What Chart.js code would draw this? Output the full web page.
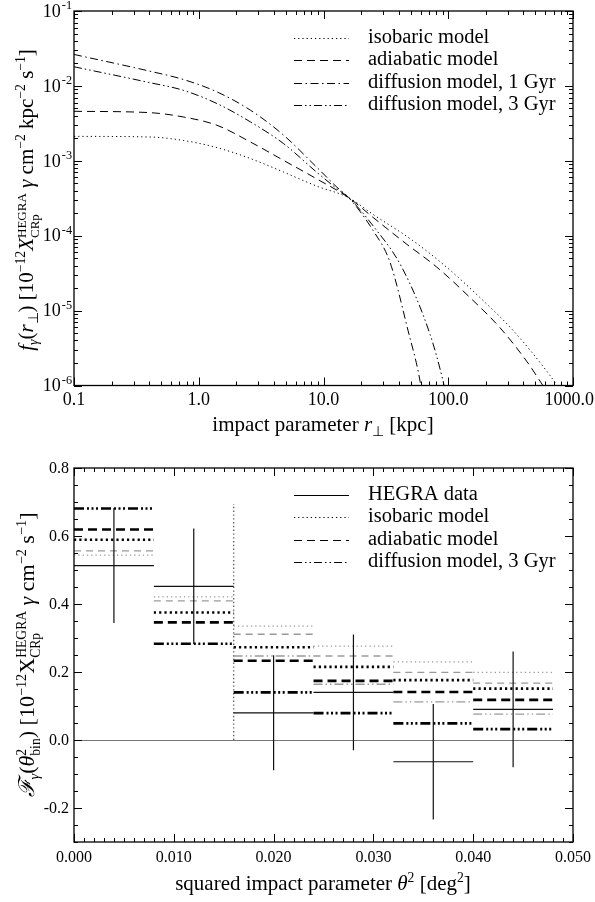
<!DOCTYPE html>
<html>
<head>
<meta charset="utf-8">
<script src="https://cdn.jsdelivr.net/npm/chart.js@4.4.1/dist/chart.umd.min.js"></script>
<style>
  body { margin: 0; background: #fff; }
  #wrap { position: relative; width: 595px; height: 902px; overflow: hidden;
          font-family: "Liberation Serif", "Times New Roman", serif; color: #000; }
  canvas { position: absolute; left: 0; }
  .title { position: absolute; white-space: nowrap; font-size: 21px; line-height: 1; }
  .ytitle { font-size: 22px; transform: translate(-50%, -50%) rotate(-90deg); }
  .xtitle { transform: translate(-50%, -50%); }
  sup, sub { font-size: 0.65em; line-height: 0; }
  .ss { display: inline-block; vertical-align: -0.45em; font-size: 0.62em; line-height: 1; text-align: left; }
  .ss span { display: block; }
</style>
</head>
<body>
<div id="wrap">
  <canvas id="topChart" width="595" height="430" style="top:0"></canvas>
  <canvas id="bottomChart" width="595" height="462" style="top:440px"></canvas>

  <div class="title ytitle" style="left:28px; top:200px; font-size:21px"><i>f</i><sub><i>γ</i></sub>(<i>r</i><sub>⊥</sub>) [10<sup>−12</sup><i>X</i><span class="ss"><span>HEGRA</span><span>CRp</span></span> <i>γ</i> cm<sup>−2</sup> kpc<sup>−2</sup> s<sup>−1</sup>]</div>
  <div class="title xtitle" style="left:323px; top:424px">impact parameter <i>r</i><sub>⊥</sub> [kpc]</div>

  <div class="title ytitle" style="left:29px; top:655px"><i>ℱ</i><sub><i>γ</i></sub>(<i>θ</i><span class="ss"><span>2</span><span>bin</span></span>) [10<sup>−12</sup>X<span class="ss"><span>HEGRA</span><span>CRp</span></span> <i>γ</i> cm<sup>−2</sup> s<sup>−1</sup>]</div>
  <div class="title xtitle" style="left:323px; top:883px">squared impact parameter <i>θ</i><sup>2</sup> [deg<sup>2</sup>]</div>
</div>

<script>
// ---- top panel: profiles f_gamma(r) ----
const isobaricR = [0.1, 0.4, 0.75, 1.4, 2.6, 4.8, 8.8, 16, 25, 52, 97, 179, 332, 615, 1000];
const isobaricF = [2.12e-3, 2.08e-3, 1.87e-3, 1.50e-3, 1.07e-3, 7.06e-4, 4.6e-4, 3.2e-4, 1.92e-4, 8.6e-5, 3.8e-5, 1.5e-5, 5.4e-6, 1.56e-6, 5.0e-7];

const adiabaticR = [0.1, 0.4, 0.75, 1.4, 2.6, 4.8, 8.8, 16, 25, 46, 81, 149, 260, 426, 543, 800];
const adiabaticF = [4.58e-3, 4.40e-3, 3.85e-3, 2.98e-3, 1.78e-3, 1.01e-3, 5.75e-4, 3.2e-4, 1.75e-4, 7.8e-5, 3.8e-5, 1.5e-5, 5.9e-6, 2.1e-6, 1.15e-6, 4.2e-7];

const diff1R = [0.1, 0.4, 0.75, 1.4, 2.6, 4.8, 8.8, 12.8, 16, 25, 34, 47.5, 59.4, 75];
const diff1F = [2.63e-2, 1.58e-2, 1.22e-2, 8.32e-3, 4.73e-3, 2.19e-3, 8.24e-4, 4.45e-4, 3.2e-4, 1.17e-4, 4.5e-5, 5.5e-6, 1.15e-6, 8e-8];

const diff3R = [0.1, 0.4, 0.75, 1.4, 2.6, 4.8, 8.8, 12.8, 16, 25, 42.4, 71.5, 90.8, 110];
const diff3F = [1.80e-2, 1.11e-2, 8.75e-3, 5.81e-3, 3.30e-3, 1.69e-3, 7.06e-4, 4.24e-4, 3.2e-4, 1.35e-4, 3.8e-5, 4.8e-6, 1.15e-6, 2.5e-7];

const topNames = ['isobaric model', 'adiabatic model', 'diffusion model, 1 Gyr', 'diffusion model, 3 Gyr'];

const topXTicks = [0.1, 1, 10, 100, 1000];
const topXLabels = ['0.1', '1.0', '10.0', '100.0', '1000.0'];
const topYTicks = [1e-1, 1e-2, 1e-3, 1e-4, 1e-5, 1e-6];
const topYExp = ['-1', '-2', '-3', '-4', '-5', '-6'];

// ---- bottom panel: binned flux ----
const binEdges = [0.000, 0.008, 0.016, 0.024, 0.032, 0.040, 0.048];
const hegraFlux = [0.513, 0.452, 0.080, 0.140, -0.064, 0.090];
const hegraErr = [0.169, 0.170, 0.169, 0.170, 0.170, 0.170];
const isobaricBin = [0.589, 0.375, 0.273, 0.215, 0.176, 0.151];
const adiabaticBin = [0.619, 0.346, 0.233, 0.174, 0.141, 0.118];
const diff3Bin = [0.681, 0.283, 0.140, 0.079, 0.049, 0.032];
const isobaricBinGrey = [0.544, 0.421, 0.335, 0.276, 0.230, 0.199];
const adiabaticBinGrey = [0.556, 0.409, 0.311, 0.247, 0.199, 0.167];
const diff3BinGrey = [null, null, 0.247, 0.164, 0.112, 0.076];
const greyEdgeX = [0.016, 0.016];
const greyEdgeY = [0.0, 0.694];

const bottomNames = ['HEGRA data', 'isobaric model', 'adiabatic model', 'diffusion model, 3 Gyr'];

const botXTicks = [0, 0.01, 0.02, 0.03, 0.04, 0.05];
const botXLabels = ['0.000', '0.010', '0.020', '0.030', '0.040', '0.050'];
const botYTicks = [0.8, 0.6, 0.4, 0.2, 0.0, -0.2];
const botYLabels = ['0.8', '0.6', '0.4', '0.2', '0.0', '-0.2'];

// line styles
const DOT = [1.2, 3];
const DASH = [8, 5];
const DASHDOT = [8, 3.5, 1.5, 3.5];
const DASHDOTDOT = [8, 3, 1.5, 3, 1.5, 3];

function pts(xs, ys) {
    return xs.map((x, i) => ({ x: x, y: ys[i] }));
}

// horizontal segment per bin, broken by nulls
function steps(vals) {
    const out = [];
    vals.forEach((v, i) => {
        if (v === null) return;
        out.push({ x: binEdges[i], y: v }, { x: binEdges[i + 1], y: v }, { x: binEdges[i + 1], y: null });
    });
    return out;
}

function errBars(vals, errs) {
    const out = [];
    vals.forEach((v, i) => {
        const c = (binEdges[i] + binEdges[i + 1]) / 2;
        out.push({ x: c, y: v - errs[i] }, { x: c, y: v + errs[i] }, { x: c, y: null });
    });
    return out;
}

// inward ticks on all four sides, frame and tick labels
const axisFrame = {
    id: 'axisFrame',
    afterDatasetsDraw(chart, args, o) {
        const ctx = chart.ctx, a = chart.chartArea;
        const xs = chart.scales.x, ys = chart.scales.y;
        ctx.save();
        ctx.strokeStyle = '#000';
        ctx.lineWidth = 1;
        ctx.setLineDash([]);
        ctx.beginPath();
        const xTick = (v, len) => {
            const p = Math.round(xs.getPixelForValue(v)) + 0.5;
            ctx.moveTo(p, a.bottom); ctx.lineTo(p, a.bottom - len);
            ctx.moveTo(p, a.top); ctx.lineTo(p, a.top + len);
        };
        const yTick = (v, len) => {
            const p = Math.round(ys.getPixelForValue(v)) + 0.5;
            ctx.moveTo(a.left, p); ctx.lineTo(a.left + len, p);
            ctx.moveTo(a.right, p); ctx.lineTo(a.right - len, p);
        };
        o.xMajor.forEach(v => xTick(v, 8));
        o.xMinor.forEach(v => xTick(v, 4));
        o.yMajor.forEach(v => yTick(v, 8));
        o.yMinor.forEach(v => yTick(v, 4));
        ctx.stroke();
        ctx.lineWidth = 1.3;
        ctx.strokeRect(a.left, a.top, a.right - a.left, a.bottom - a.top);

        ctx.fillStyle = '#000';
        ctx.font = o.fontSize + 'px "Liberation Serif", serif';
        ctx.textAlign = 'center';
        ctx.textBaseline = 'middle';
        o.xMajor.forEach((v, i) => {
            const w = ctx.measureText(o.xLabels[i]).width;
            let px = xs.getPixelForValue(v);
            // keep the last label inside the canvas
            px = Math.min(px, chart.width - 1 - w / 2);
            ctx.fillText(o.xLabels[i], px, a.bottom + o.xGap);
        });
        ctx.textAlign = 'right';
        o.yMajor.forEach((v, i) => {
            const p = ys.getPixelForValue(v);
            if (o.yExp) {
                ctx.font = (o.fontSize * 0.68) + 'px "Liberation Serif", serif';
                const w = ctx.measureText(o.yExp[i]).width;
                ctx.fillText(o.yExp[i], a.left - 2, p - 5);
                ctx.font = o.fontSize + 'px "Liberation Serif", serif';
                ctx.fillText('10', a.left - 3 - w, p + 1);
            } else {
                ctx.fillText(o.yLabels[i], a.left - 5, p + 1);
            }
        });
        ctx.restore();
    }
};

const lineLegend = {
    id: 'lineLegend',
    afterDatasetsDraw(chart, args, o) {
        const ctx = chart.ctx, a = chart.chartArea;
        ctx.save();
        ctx.font = '20.5px "Liberation Serif", serif';
        ctx.fillStyle = '#000';
        ctx.strokeStyle = '#000';
        ctx.textAlign = 'left';
        ctx.textBaseline = 'alphabetic';
        o.items.forEach((it, i) => {
            const y = Math.round(a.top + 27 + i * 22.4) + 0.5;
            ctx.beginPath();
            ctx.lineWidth = 1;
            ctx.setLineDash(it.dash);
            ctx.moveTo(a.right - 279, y);
            ctx.lineTo(a.right - 224, y);
            ctx.stroke();
            ctx.fillText(it.label, a.right - 205, y + 4.5);
        });
        ctx.restore();
    }
};

function logMinor(lo, hi) {
    const out = [];
    for (let d = lo; d < hi * 0.999; d *= 10) {
        for (let k = 2; k <= 9; k++) out.push(d * k);
    }
    return out;
}

function linMinor(lo, hi, step, majorStep) {
    const out = [];
    const n = Math.round((hi - lo) / step);
    for (let i = 0; i <= n; i++) {
        const v = lo + i * step;
        const r = v / majorStep;
        if (Math.abs(r - Math.round(r)) > 1e-6) out.push(v);
    }
    return out;
}

const topStyles = [DOT, DASH, DASHDOT, DASHDOTDOT];
const topSeries = [pts(isobaricR, isobaricF), pts(adiabaticR, adiabaticF), pts(diff1R, diff1F), pts(diff3R, diff3F)];

new Chart(document.getElementById('topChart'), {
    type: 'line',
    data: {
        datasets: topSeries.map((d, i) => ({
            label: topNames[i],
            data: d,
            borderColor: '#000',
            borderWidth: 1,
            borderDash: topStyles[i],
            pointRadius: 0,
            fill: false,
            cubicInterpolationMode: 'monotone'
        }))
    },
    options: {
        responsive: false,
        animation: false,
        devicePixelRatio: 1,
        events: [],
        layout: { padding: { left: 74, top: 11, right: 22, bottom: 44.5 } },
        scales: {
            x: { type: 'logarithmic', min: 0.1, max: 1000, display: false },
            y: { type: 'logarithmic', min: 1e-6, max: 1e-1, display: false }
        },
        plugins: {
            legend: { display: false },
            tooltip: { enabled: false },
            axisFrame: {
                xMajor: topXTicks, xMinor: logMinor(0.1, 1000), xLabels: topXLabels, xGap: 15,
                yMajor: topYTicks, yMinor: logMinor(1e-6, 1e-1), yExp: topYExp,
                fontSize: 18
            },
            lineLegend: {
                items: topNames.map((n, i) => ({ label: n, dash: topStyles[i] }))
            }
        }
    },
    plugins: [axisFrame, lineLegend]
});

const GREY = '#9a9a9a';
function seg(label, data, color, width, dash) {
    return { label: label, data: data, borderColor: color, borderWidth: width, borderDash: dash,
             pointRadius: 0, fill: false, spanGaps: false, tension: 0 };
}

new Chart(document.getElementById('bottomChart'), {
    type: 'line',
    data: {
        datasets: [
            seg('HEGRA data', steps(hegraFlux), '#111', 1.2, []),
            seg('HEGRA errors', errBars(hegraFlux, hegraErr), '#111', 1.2, []),
            seg('diffusion 3 Gyr', steps(diff3Bin), '#000', 2.6, [10, 3, 2, 2.5, 2, 2.5, 2, 3]),
            seg('adiabatic', steps(adiabaticBin), '#000', 2.6, [9, 5]),
            seg('isobaric', steps(isobaricBin), '#000', 2.6, [2.2, 3.1]),
            seg('diffusion 3 Gyr (grey)', steps(diff3BinGrey), GREY, 1.3, [9, 3, 1.5, 3, 1.5, 3]),
            seg('adiabatic (grey)', steps(adiabaticBinGrey), GREY, 1.3, [7, 5]),
            seg('isobaric (grey)', steps(isobaricBinGrey), GREY, 1.3, [1.3, 3]),
            seg('edge', pts(greyEdgeX, greyEdgeY), '#666', 1.4, [1.4, 2.4])
        ]
    },
    options: {
        responsive: false,
        animation: false,
        devicePixelRatio: 1,
        events: [],
        layout: { padding: { left: 74, top: 28, right: 22, bottom: 60 } },
        scales: {
            x: { type: 'linear', min: 0, max: 0.05, display: false },
            y: { type: 'linear', min: -0.3, max: 0.8, display: false }
        },
        plugins: {
            legend: { display: false },
            tooltip: { enabled: false },
            axisFrame: {
                xMajor: botXTicks, xMinor: linMinor(0, 0.05, 0.001, 0.01), xLabels: botXLabels, xGap: 16,
                yMajor: botYTicks, yMinor: linMinor(-0.3, 0.8, 0.05, 0.2), yLabels: botYLabels,
                fontSize: 16
            },
            lineLegend: {
                items: bottomNames.map((n, i) => ({ label: n, dash: [[], DOT, DASH, DASHDOTDOT][i] }))
            }
        }
    },
    plugins: [
        {
            id: 'zeroLine',
            beforeDatasetsDraw(chart) {
                const ctx = chart.ctx, a = chart.chartArea;
                const p = Math.round(chart.scales.y.getPixelForValue(0)) + 0.5;
                ctx.save();
                ctx.strokeStyle = '#777';
                ctx.lineWidth = 1;
                ctx.beginPath();
                ctx.moveTo(a.left, p);
                ctx.lineTo(a.right, p);
                ctx.stroke();
                ctx.restore();
            }
        },
        axisFrame, lineLegend
    ]
});
</script>
</body>
</html>
